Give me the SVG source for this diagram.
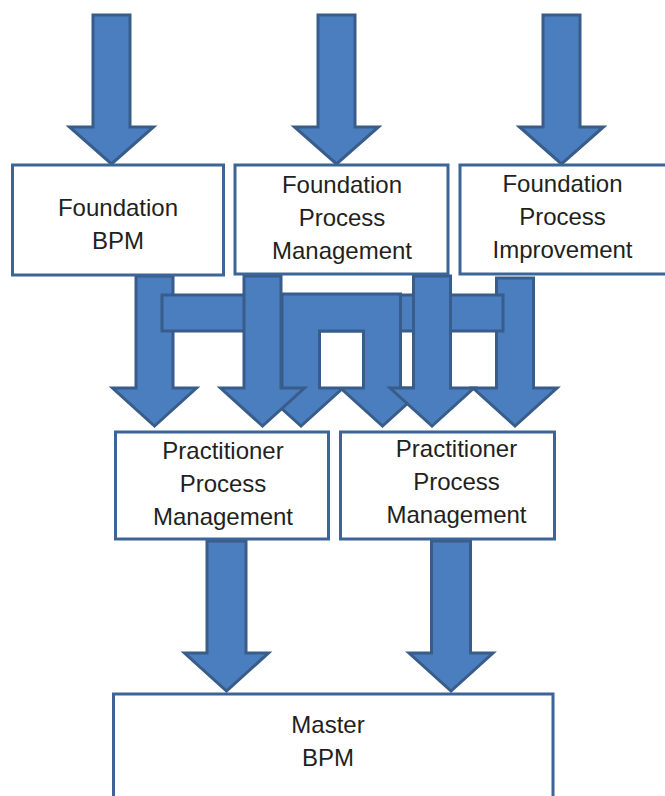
<svg xmlns="http://www.w3.org/2000/svg" width="665" height="796" viewBox="0 0 665 796">
<style>
.arr{fill:#4A7EBE;stroke:#385D8A;stroke-width:3;stroke-linejoin:miter}
.box{fill:#FFFFFF;stroke:#3C6496;stroke-width:3}
.t{font-family:"Liberation Sans",Arial,sans-serif;font-size:24px;fill:#231F20;text-anchor:middle}
</style>
<rect width="665" height="796" fill="#FFFFFF"/>
<g id="connectors">
<path class="arr" d="M93,15 H130 V127 H153.5 L111.5,164 L69.5,127 H93 Z"/>
<path class="arr" d="M318,15 H355 V127 H378.5 L336.5,164 L294.5,127 H318 Z"/>
<path class="arr" d="M543,15 H580 V127 H603.5 L561.5,164 L519.5,127 H543 Z"/>
<path class="arr" d="M136,276 H173 V388 H196.5 L154.5,426 L112.5,388 H136 Z"/>
<path class="arr" d="M496.5,278 H533.5 V388 H557 L515,426 L473,388 H496.5 Z"/>
<rect class="arr" x="162" y="295" width="341" height="36"/>
<path class="arr" d="M282,294 H400.5 V388 H424.5 L382.5,426 L340.5,388 H363.5 V331 H319.5 V388 H343 L301,426 L259,388 H282 Z"/>
<path class="arr" d="M244,276 H281 V388 H304.5 L262.5,426 L220.5,388 H244 Z"/>
<path class="arr" d="M413.5,276 H450.5 V388 H474 L432,426 L390,388 H413.5 Z"/>
<path class="arr" d="M207,541 H246 V653 H268.5 L226.5,691 L184.5,653 H207 Z"/>
<path class="arr" d="M431.5,541 H470.5 V653 H493 L451,691 L409,653 H431.5 Z"/>
</g>
<g id="foundation-bpm">
<rect class="box" x="12.5" y="165" width="211" height="110"/>
<text class="t" x="118" y="216">Foundation</text>
<text class="t" x="118" y="249">BPM</text>
</g>
<g id="foundation-process-management">
<rect class="box" x="235" y="165" width="213" height="109"/>
<text class="t" x="342" y="193">Foundation</text>
<text class="t" x="342" y="226">Process</text>
<text class="t" x="342" y="259">Management</text>
</g>
<g id="foundation-process-improvement">
<rect class="box" x="460" y="165" width="210" height="109"/>
<text class="t" x="562.5" y="192">Foundation</text>
<text class="t" x="562.5" y="225">Process</text>
<text class="t" x="562.5" y="258">Improvement</text>
</g>
<g id="practitioner-1">
<rect class="box" x="115.5" y="432" width="213" height="107"/>
<text class="t" x="223" y="459">Practitioner</text>
<text class="t" x="223" y="492">Process</text>
<text class="t" x="223" y="525">Management</text>
</g>
<g id="practitioner-2">
<rect class="box" x="340.5" y="432" width="214" height="107"/>
<text class="t" x="456.5" y="457">Practitioner</text>
<text class="t" x="456.5" y="490">Process</text>
<text class="t" x="456.5" y="523">Management</text>
</g>
<g id="master-bpm">
<rect class="box" x="113.5" y="694" width="439.5" height="120"/>
<text class="t" x="328" y="733">Master</text>
<text class="t" x="328" y="766">BPM</text>
</g>
</svg>
